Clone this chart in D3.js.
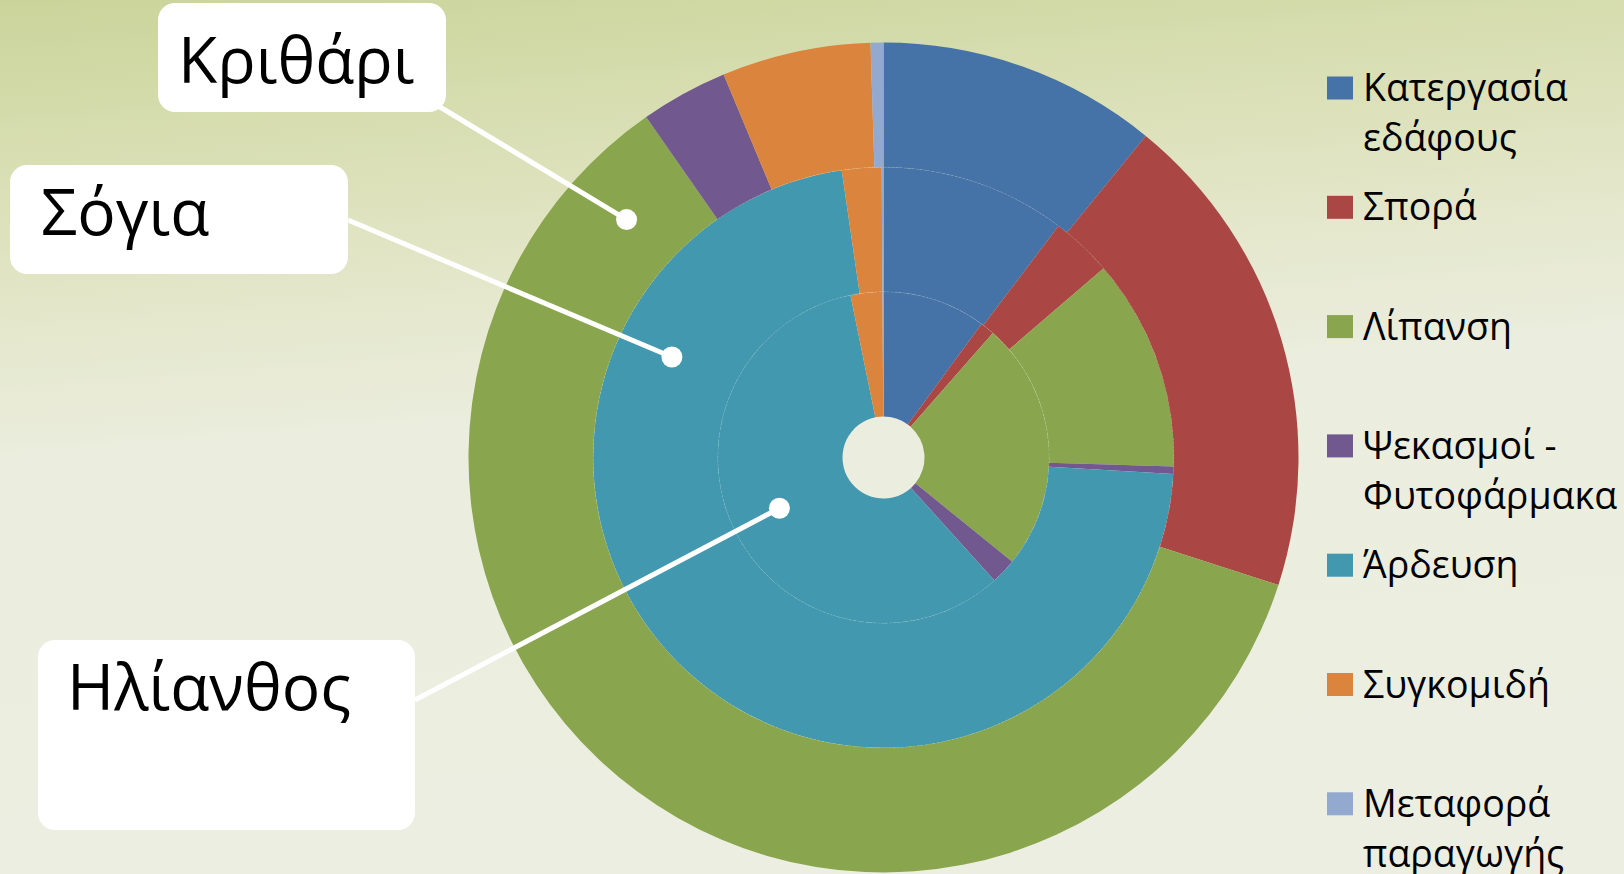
<!DOCTYPE html>
<html>
<head>
<meta charset="utf-8">
<script src="https://cdn.jsdelivr.net/npm/d3@7"></script>
<style>
  body { margin: 0; overflow: hidden; }
  svg { display: block; }
</style>
</head>
<body>
<svg id="chart"></svg>
<script>
// Cost breakdown per crop (shares, %)
const categories = ["Κατεργασία εδάφους", "Σπορά", "Λίπανση", "Ψεκασμοί - Φυτοφάρμακα", "Άρδευση", "Συγκομιδή", "Μεταφορά παραγωγής"];
const cropNames = ["Ηλίανθος", "Σόγια", "Κριθάρι"]; // inner -> outer ring
const sunflowerShares = [10.1, 1.4, 24.4, 2.5, 58.6, 3.1, 0.1];
const soyaShares = [10.3, 3.4, 11.8, 0.4, 71.8, 2.2, 0.1];
const barleyShares = [10.9, 19.1, 60.4, 3.4, 0, 5.8, 0.5];

const sliceColors = ["#4572A7", "#AA4643", "#89A54E", "#71588F", "#4198AF", "#DB843D", "#93A9CF"];

// callout boxes (layout only)
const callouts = [
    {crop: "Κριθάρι", box: [158, 3, 288, 109], text: [20, 80], from: [435, 104], angle: 312.8, frac: 0.48},
    {crop: "Σόγια", box: [10, 165, 338, 109], text: [31, 70], from: [348, 220], angle: 295.4, frac: 0.55},
    {crop: "Ηλίανθος", box: [38, 640, 377, 190], text: [29, 70], from: [415, 700], angle: 244, frac: 0.6}
];

class DoughnutChart {
    constructor(_config, _data) {
        this.config = {
            parentElement: _config.parentElement,
            containerWidth: _config.containerWidth || 1624,
            containerHeight: _config.containerHeight || 874,
            cx: 883.5,
            cy: 457.5,
            holeRadius: 41,
            outerRadius: 415
        };
        this.data = _data;
        this.initVis();
    }

    initVis() {
        let vis = this;

        vis.svg = d3.select(vis.config.parentElement)
            .attr('width', vis.config.containerWidth)
            .attr('height', vis.config.containerHeight);

        // background gradient
        const defs = vis.svg.append('defs');
        const grad = defs.append('linearGradient')
            .attr('id', 'bg')
            .attr('x1', 0).attr('y1', 0).attr('x2', 0.15).attr('y2', 1);
        [[0, '#CAD49A'], [0.18, '#D8DEB2'], [0.38, '#E5E8CD'], [0.52, '#EBEDDE'], [1, '#ECEEE1']]
            .forEach(s => grad.append('stop').attr('offset', s[0]).attr('stop-color', s[1]));

        vis.svg.append('rect')
            .attr('width', vis.config.containerWidth)
            .attr('height', vis.config.containerHeight)
            .attr('fill', 'url(#bg)');

        vis.ringScale = d3.scaleBand()
            .domain(cropNames)
            .range([vis.config.holeRadius, vis.config.outerRadius]);

        vis.color = d3.scaleOrdinal()
            .domain(categories)
            .range(sliceColors);

        vis.pie = d3.pie().sort(null).value(d => d.value);

        vis.chart = vis.svg.append('g')
            .attr('transform', `translate(${vis.config.cx},${vis.config.cy})`);

        vis.renderVis();
    }

    renderVis() {
        let vis = this;

        const rings = vis.chart.selectAll('.ring')
            .data(vis.data)
            .join('g')
            .attr('class', 'ring');

        rings.each(function(ring) {
            const r0 = vis.ringScale(ring.crop);
            const arc = d3.arc().innerRadius(r0).outerRadius(r0 + vis.ringScale.bandwidth());
            d3.select(this).selectAll('path')
                .data(vis.pie(ring.values.map((v, i) => ({value: v, category: categories[i]}))))
                .join('path')
                .attr('d', arc)
                .attr('fill', d => vis.color(d.data.category));
        });

        // faint seams between rings
        vis.chart.selectAll('.seam')
            .data(cropNames.slice(1))
            .join('circle')
            .attr('class', 'seam')
            .attr('r', d => vis.ringScale(d))
            .attr('fill', 'none')
            .attr('stroke', '#ffffff')
            .attr('stroke-opacity', 0.15)
            .attr('stroke-width', 1)
            .attr('stroke-dasharray', '2,2');

        // callouts
        const co = vis.svg.selectAll('.callout')
            .data(callouts)
            .join('g')
            .attr('class', 'callout');

        const dotPos = d => {
            const r0 = vis.ringScale(d.crop);
            const r = r0 + d.frac * vis.ringScale.bandwidth();
            const a = d.angle * Math.PI / 180;
            return [vis.config.cx + r * Math.sin(a), vis.config.cy - r * Math.cos(a)];
        };

        co.append('line')
            .attr('x1', d => d.from[0])
            .attr('y1', d => d.from[1])
            .attr('x2', d => dotPos(d)[0])
            .attr('y2', d => dotPos(d)[1])
            .attr('stroke', '#ffffff')
            .attr('stroke-width', 5);

        co.append('circle')
            .attr('cx', d => dotPos(d)[0])
            .attr('cy', d => dotPos(d)[1])
            .attr('r', 10.5)
            .attr('fill', '#ffffff');

        co.append('rect')
            .attr('x', d => d.box[0])
            .attr('y', d => d.box[1])
            .attr('width', d => d.box[2])
            .attr('height', d => d.box[3])
            .attr('rx', 17)
            .attr('fill', '#ffffff');

        co.append('text')
            .attr('x', d => d.box[0] + d.text[0])
            .attr('y', d => d.box[1] + d.text[1])
            .attr('font-family', '"Open Sans", sans-serif')
            .attr('font-size', 64)
            .attr('fill', '#000000')
            .text(d => d.crop);

        // legend
        const legend = vis.svg.append('g')
            .attr('transform', 'translate(1327,88)');

        const item = legend.selectAll('.legend-item')
            .data(categories)
            .join('g')
            .attr('class', 'legend-item')
            .attr('transform', (d, i) => `translate(0,${i * 119.3})`);

        item.append('rect')
            .attr('y', -11.5)
            .attr('width', 26)
            .attr('height', 23)
            .attr('fill', d => vis.color(d));

        item.append('text')
            .attr('x', 36)
            .attr('y', 13)
            .attr('font-family', '"Open Sans", sans-serif')
            .attr('font-size', 37.5)
            .attr('fill', '#000000')
            .each(function(d) {
                const text = d3.select(this);
                const words = d.split(' ');
                let line = [];
                let tspan = text.append('tspan').attr('x', 36).attr('dy', 0);
                words.forEach(w => {
                    line.push(w);
                    tspan.text(line.join(' '));
                    if (tspan.node().getComputedTextLength() > 262 && line.length > 1) {
                        line.pop();
                        tspan.text(line.join(' '));
                        line = [w];
                        tspan = text.append('tspan').attr('x', 36).attr('dy', 50).text(w);
                    }
                });
            });
    }
}

const chartData = [
    {crop: cropNames[0], values: sunflowerShares},
    {crop: cropNames[1], values: soyaShares},
    {crop: cropNames[2], values: barleyShares}
];

const doughnut = new DoughnutChart({parentElement: '#chart'}, chartData);
</script>
</body>
</html>
